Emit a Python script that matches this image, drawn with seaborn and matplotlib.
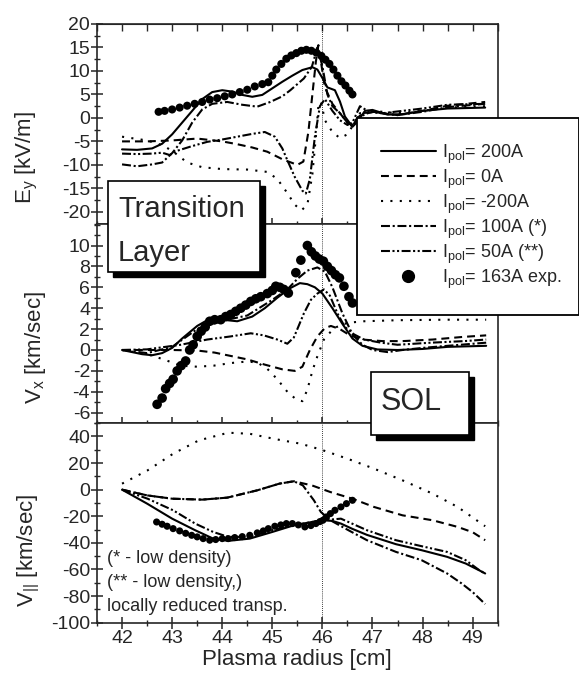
import numpy as np
import pandas as pd
import seaborn as sns
import matplotlib.pyplot as plt
from matplotlib.lines import Line2D
from matplotlib.patches import Rectangle

sns.set_style("ticks")
plt.rcParams['font.family'] = ['Liberation Sans', 'DejaVu Sans']
plt.rcParams['mathtext.fontset'] = 'custom'
plt.rcParams['mathtext.rm'] = 'Liberation Sans'
plt.rcParams['mathtext.it'] = 'Liberation Sans:italic'
plt.rcParams['mathtext.bf'] = 'Liberation Sans:bold'
plt.rcParams['axes.unicode_minus'] = False

# ---- E_y panel [kV/m] ----
ey_200_x = [42.0, 42.3, 42.6, 42.8, 43.0, 43.2, 43.4, 43.6, 43.8, 44.0, 44.2, 44.4, 44.6, 44.8, 45.0, 45.2,
            45.4, 45.6, 45.8, 45.9, 46.0, 46.1, 46.25, 46.35, 46.45, 46.6, 46.7, 46.85, 47.0, 47.3, 47.6,
            48.0, 48.5, 49.25]
ey_200_y = [-6.7, -6.8, -6.5, -5.5, -3.5, -1.0, 1.5, 4.0, 5.5, 5.9, 5.6, 4.9, 4.5, 4.9, 6.3, 7.7,
            9.0, 10.2, 10.8, 10.3, 8.5, 6.5, 5.9, 3.5, 0.3, -1.9, -0.8, 1.5, 1.7, 0.7, 0.8,
            1.5, 2.0, 2.2]
ey_0_x = [42.0, 42.5, 43.0, 43.5, 44.0, 44.3, 44.6, 44.9, 45.2, 45.5, 45.62, 45.72, 45.8, 45.87, 45.92,
          45.97, 46.05, 46.2, 46.35, 46.5, 46.6, 46.75, 47.0, 47.5, 48.0, 48.5, 49.25]
ey_0_y = [-5.0, -5.0, -4.8, -4.4, -5.0, -5.6, -6.3, -7.2, -8.8, -10.0, -9.3, -3.0, 5.0, 12.0, 15.5,
          12.0, 6.5, 3.0, 1.0, -1.0, -1.5, 0.5, 1.3, 0.6, 1.5, 2.6, 3.4]
ey_m200_x = [42.0, 42.5, 42.8, 43.0, 43.3, 43.6, 44.0, 44.5, 44.9, 45.1, 45.3, 45.45, 45.58, 45.7, 45.8,
             45.87, 45.92, 45.97, 46.05, 46.2, 46.35, 46.5, 46.7, 47.0, 47.5, 48.0, 48.5, 49.25]
ey_m200_y = [-4.0, -4.8, -5.8, -7.0, -9.5, -10.5, -10.9, -11.0, -11.5, -13.0, -16.0, -18.5, -19.7, -18.5, -12.0,
             -4.0, 2.5, 3.5, -0.5, -3.0, -4.3, -3.5, 0.0, 1.5, 1.0, 1.5, 2.2, 2.5]
ey_100_x = [42.0, 42.3, 42.6, 42.8, 43.0, 43.2, 43.4, 43.6, 43.8, 44.1, 44.4, 44.7, 44.96, 45.2, 45.36,
            45.63, 45.79, 45.9, 46.0, 46.1, 46.2, 46.35, 46.5, 46.6, 46.75, 47.0, 47.5, 48.0, 48.5, 49.25]
ey_100_y = [-9.9, -10.3, -9.9, -9.5, -7.5, -4.8, -1.0, 1.8, 3.0, 3.4, 2.8, 2.4, 3.4, 4.6, 5.9,
            8.4, 10.9, 15.0, 11.0, 5.0, 2.5, 1.0, -1.0, -1.8, 1.0, 1.2, 0.6, 1.3, 2.3, 3.0]
ey_50_x = [42.0, 42.3, 42.6, 42.8, 42.95, 43.1, 43.4, 43.7, 44.0, 44.3, 44.6, 44.85, 45.05, 45.2, 45.3,
           45.45, 45.6, 45.67, 45.75, 45.85, 45.95, 46.05, 46.2, 46.35, 46.5, 46.6, 46.75, 46.9, 47.2,
           47.6, 48.0, 48.5, 49.25]
ey_50_y = [-7.6, -7.7, -7.6, -7.4, -7.9, -7.0, -6.0, -5.1, -4.6, -4.0, -3.4, -3.0, -4.0, -6.5, -9.0,
           -12.6, -15.5, -16.1, -13.0, -4.0, 2.5, 4.0, 1.5, -0.5, -1.5, -1.0, 2.5, 1.5, 1.0,
           1.5, 2.0, 2.8, 3.0]
ey_exp_x = [42.73, 42.85, 43.0, 43.15, 43.3, 43.45, 43.6, 43.75, 43.9, 44.05, 44.2, 44.35, 44.5, 44.65,
            44.8, 44.92, 45.0, 45.08, 45.18, 45.28, 45.38, 45.48, 45.58, 45.68, 45.78, 45.88, 45.98,
            46.06, 46.14, 46.22, 46.3, 46.38, 46.46, 46.54, 46.6]
ey_exp_y = [1.3, 1.5, 1.8, 2.2, 2.6, 3.0, 3.4, 3.9, 4.2, 4.6, 5.0, 5.5, 6.0, 6.7,
            7.2, 7.6, 9.0, 10.3, 11.5, 12.6, 13.3, 13.8, 14.3, 14.5, 14.3, 13.9, 13.2,
            12.4, 11.5, 10.3, 9.0, 7.8, 6.9, 5.8, 5.0]

# ---- V_x panel [km/sec] ----
vx_200_x = [42.0, 42.2, 42.4, 42.6, 42.8, 43.0, 43.2, 43.5, 43.7, 44.0, 44.3, 44.6, 44.85, 45.1, 45.35,
            45.55, 45.7, 45.85, 46.0, 46.2, 46.4, 46.6, 46.8, 47.1, 47.5, 48.0, 48.5, 49.27]
vx_200_y = [0.0, -0.2, -0.4, -0.5, -0.3, 0.2, 1.1, 2.3, 2.85, 2.9, 2.75, 3.2, 4.0, 5.0, 5.9,
            6.4, 6.3, 6.0, 5.4, 4.0, 2.5, 1.1, 0.4, 0.05, 0.0, 0.1, 0.3, 0.4]
vx_0_x = [42.0, 42.5, 43.0, 43.5, 43.85, 44.2, 44.5, 44.85, 45.2, 45.45, 45.6, 45.75, 45.9, 46.05, 46.17,
          46.35, 46.55, 46.8, 47.2, 47.6, 48.2, 48.8, 49.27]
vx_0_y = [0.0, 0.0, 0.0, -0.05, -0.25, -0.6, -0.9, -1.4, -1.85, -2.0, -1.6, 0.0, 1.3, 2.1, 2.3,
          2.0, 1.4, 1.0, 0.85, 0.85, 1.0, 1.25, 1.4]
vx_m200_x = [42.0, 42.5, 42.83, 43.17, 43.5, 43.83, 44.17, 44.5, 44.7, 44.9, 45.1, 45.3, 45.47, 45.6,
             45.7, 45.8, 45.9, 46.03, 46.23, 46.5, 46.83, 47.5, 48.5, 49.27]
vx_m200_y = [0.0, -0.4, -0.9, -1.5, -1.6, -1.5, -1.25, -1.1, -1.2, -1.8, -2.8, -4.0, -4.7, -4.9,
             -3.8, -2.0, -0.6, 1.0, 2.1, 2.6, 2.75, 2.85, 2.9, 2.9]
vx_100_x = [42.0, 42.5, 43.0, 43.5, 44.0, 44.5, 45.0, 45.3, 45.5, 45.7, 45.9, 46.05, 46.2, 46.4, 46.6,
            46.8, 47.0, 47.3, 47.6, 48.0, 48.5, 49.27]
vx_100_y = [0.0, -0.3, 0.3, 2.0, 2.8, 3.3, 4.8, 5.8, 6.8, 7.6, 7.9, 7.5, 6.0, 3.5, 1.5,
            0.5, 0.0, -0.2, 0.0, 0.2, 0.4, 0.7]
vx_50_x = [42.0, 42.5, 43.17, 43.7, 44.17, 44.57, 44.83, 45.1, 45.3, 45.43, 45.5, 45.63, 45.77, 45.9,
           46.03, 46.15, 46.3, 46.45, 46.63, 46.83, 47.17, 47.5, 48.17, 48.83, 49.27]
vx_50_y = [0.0, 0.06, 0.5, 1.0, 1.3, 1.6, 1.4, 1.0, 0.6, 1.2, 2.0, 3.5, 4.8, 5.4,
           5.8, 5.2, 3.5, 2.2, 1.5, 1.0, 0.7, 0.5, 0.7, 0.85, 1.0]
vx_exp_x = [42.7, 42.8, 42.87, 42.95, 43.02, 43.1, 43.18, 43.27, 43.35, 43.42, 43.5, 43.58, 43.66, 43.75,
            43.85, 43.97, 44.07, 44.17, 44.27, 44.37, 44.47, 44.57, 44.67, 44.77, 44.9, 45.0, 45.07,
            45.15, 45.23, 45.32, 45.47, 45.57, 45.7, 45.78, 45.86, 45.94, 46.02, 46.1, 46.18, 46.26,
            46.34, 46.43, 46.53, 46.6]
vx_exp_y = [-5.2, -4.6, -3.7, -3.2, -2.8, -2.0, -1.5, -1.05, 0.0, 0.5, 1.3, 1.8, 2.2, 2.75,
            2.9, 2.9, 3.2, 3.4, 3.7, 4.0, 4.3, 4.65, 4.9, 5.1, 5.4, 5.7, 6.1,
            6.0, 5.8, 5.45, 7.4, 8.6, 10.0, 9.4, 9.0, 8.7, 8.5, 8.0, 7.6, 7.2,
            6.9, 6.1, 5.1, 4.5]

# ---- V_par panel [km/sec] ----
vp_200_x = [42.0, 42.5, 43.0, 43.46, 43.82, 44.12, 44.55, 45.0, 45.43, 45.79, 46.01, 46.2, 46.37, 46.6,
            46.89, 47.47, 47.98, 48.49, 48.86, 49.15, 49.25]
vp_200_y = [0, -10.5, -21.8, -30.5, -36.8, -38.5, -36.8, -31.8, -26.8, -24.3, -23.0, -23.5, -25.5, -29.5,
            -34.0, -41.0, -45.5, -50.5, -55.5, -61.0, -63.0]
vp_0_x = [42.0, 42.5, 43.0, 43.6, 44.1, 44.7, 45.14, 45.43, 45.79, 46.16, 46.6, 47.03, 47.6, 48.2,
          48.7, 49.0, 49.25]
vp_0_y = [0, -4.3, -6.8, -7.5, -6.0, -0.5, 4.5, 6.3, 3.2, -1.8, -6.8, -13.0, -19.3, -23.0,
          -28.0, -32.0, -38.0]
vp_m200_x = [42.0, 42.51, 43.02, 43.53, 44.12, 44.55, 45.06, 45.57, 45.98, 46.52, 47.03, 47.6, 48.2,
             48.7, 49.25]
vp_m200_y = [4.5, 14.5, 27.0, 37.0, 42.8, 42.0, 38.0, 34.5, 30.0, 23.0, 15.8, 7.0, -3.0,
             -13.0, -27.5]
vp_100_x = [42.0, 42.5, 43.0, 43.6, 44.1, 44.7, 45.14, 45.43, 45.61, 45.83, 45.97, 46.16, 46.52, 46.89,
            47.47, 47.98, 48.49, 48.78, 49.0, 49.25]
vp_100_y = [0, -4.3, -6.8, -7.5, -6.0, -0.5, 4.5, 6.3, 3.2, -8.0, -16.8, -23.0, -30.5, -38.0,
            -46.8, -53.0, -63.0, -70.5, -77.0, -86.0]
vp_50_x = [42.0, 42.51, 43.02, 43.46, 43.82, 44.12, 44.55, 44.99, 45.43, 45.79, 46.01, 46.37, 46.89,
           47.47, 47.98, 48.49, 48.86, 49.15, 49.25]
vp_50_y = [0, -6.8, -15.5, -25.5, -31.8, -35.5, -35.5, -30.5, -26.8, -24.3, -23.0, -21.8, -30.5,
           -38.0, -42.5, -46.8, -53.0, -61.0, -63.0]
vp_exp_x = [42.69, 42.8, 42.9, 43.02, 43.15, 43.27, 43.39, 43.5, 43.62, 43.75, 43.87, 44.0, 44.12, 44.25,
            44.4, 44.55, 44.7, 44.82, 44.92, 45.05, 45.17, 45.28, 45.4, 45.52, 45.65, 45.77, 45.87,
            45.95, 46.01, 46.08, 46.16, 46.25, 46.37, 46.48, 46.6]
vp_exp_y = [-24.3, -26.0, -27.5, -29.3, -31.0, -32.8, -34.3, -35.5, -36.8, -38.0, -37.5, -36.8, -36.8, -36.0,
            -35.3, -34.3, -32.5, -31.0, -29.3, -27.5, -26.5, -25.5, -25.5, -26.5, -28.0, -27.0, -25.5,
            -24.0, -23.0, -20.5, -18.0, -15.5, -13.0, -10.5, -8.0]

labels = [r'I$_{\mathrm{pol}}$= 200A', r'I$_{\mathrm{pol}}$= 0A', r'I$_{\mathrm{pol}}$= -200A',
          r'I$_{\mathrm{pol}}$= 100A (*)', r'I$_{\mathrm{pol}}$= 50A (**)', r'I$_{\mathrm{pol}}$= 163A exp.']
styles = ['-', (0, (3.8, 2.4)), (0, (1, 3.5)), (0, (4.3, 1.3, 1, 1.3)), (0, (4.3, 1.2, 1, 1.2, 1, 1.2))]

panels = [
    [(ey_200_x, ey_200_y), (ey_0_x, ey_0_y), (ey_m200_x, ey_m200_y), (ey_100_x, ey_100_y),
     (ey_50_x, ey_50_y), (ey_exp_x, ey_exp_y)],
    [(vx_200_x, vx_200_y), (vx_0_x, vx_0_y), (vx_m200_x, vx_m200_y), (vx_100_x, vx_100_y),
     (vx_50_x, vx_50_y), (vx_exp_x, vx_exp_y)],
    [(vp_200_x, vp_200_y), (vp_0_x, vp_0_y), (vp_m200_x, vp_m200_y), (vp_100_x, vp_100_y),
     (vp_50_x, vp_50_y), (vp_exp_x, vp_exp_y)],
]
ylims = [(-22.4, 20), (-7, 12.1), (-100, 50)]
yticks = [np.arange(-20, 21, 5), np.arange(-6, 11, 2), np.arange(-100, 41, 20)]
yminor = [np.arange(-22.5, 20.1, 2.5), np.arange(-7, 12.1, 1), np.arange(-100, 50.1, 10)]
dot_sizes = [34, 48, 26]

W, H = 579, 681
fig = plt.figure(figsize=(W / 100, H / 100), dpi=100)
L, R, T, B = 97 / W, 497.7 / W, 1 - 24 / H, 1 - 622.7 / H
ph = (T - B) / 3
axes = []
for i in range(3):
    ax = fig.add_axes([L, T - (i + 1) * ph, R - L, ph])
    axes.append(ax)

for i, ax in enumerate(axes):
    series = panels[i]
    for k in range(5):
        sx, sy = series[k]
        sns.lineplot(x=sx, y=sy, ax=ax, color='black', lw=1.5, linestyle=styles[k],
                     sort=False, estimator=None, legend=False)
    ex, ey = series[5]
    sns.scatterplot(x=ex, y=ey, ax=ax, color='black', s=dot_sizes[i], edgecolor='none',
                    zorder=3, legend=False)
    ax.axvline(46, color='black', lw=0.6, ls=(0, (1, 1.5)), zorder=1)
    ax.set_xlim(41.5, 49.5)
    ax.set_ylim(*ylims[i])
    ax.set_xticks(np.arange(42, 50, 1))
    ax.set_xticks(np.arange(41.5, 49.6, 0.5), minor=True)
    ax.set_yticks(yticks[i])
    ax.set_yticks(yminor[i], minor=True)
    ax.tick_params(which='major', direction='inout', length=8, width=1.1, labelsize=14, pad=1)
    ax.tick_params(which='minor', direction='inout', length=5, width=1.0)
    ax.tick_params(labelbottom=(i == 2))
    for sp in ax.spines.values():
        sp.set_linewidth(1.2)
    ax.set_xlabel('')
    ax.set_ylabel('')

sec = axes[0].secondary_xaxis('top')
sec.set_xticks(np.arange(42, 50, 1))
sec.set_xticks(np.arange(41.5, 49.6, 0.5), minor=True)
sec.tick_params(which='both', direction='in', length=5, width=1.0, labeltop=False)

axes[2].set_xlabel('Plasma radius [cm]', fontsize=16, labelpad=2)

fig.text(27 / W, 1 - 157 / H, r'E$_\mathrm{y}$ [kV/m]', rotation=90, ha='center', va='center', fontsize=16)
fig.text(36 / W, 1 - 348 / H, r'V$_\mathrm{x}$ [km/sec]', rotation=90, ha='center', va='center', fontsize=16)
fig.text(29 / W, 1 - 550 / H, r'V$_{||}$ [km/sec]', rotation=90, ha='center', va='center', fontsize=16)

# notes in the lower panel
fig.text(107 / W, 1 - 563 / H, '(* - low density)', fontsize=13, va='baseline')
fig.text(107 / W, 1 - 587 / H, '(** - low density,)', fontsize=13, va='baseline')
fig.text(107 / W, 1 - 611 / H, 'locally reduced transp.', fontsize=13, va='baseline')


def shadow_box(x0, y0, x1, y1, off=5):
    # pixel box, top-down y
    fig.add_artist(Rectangle(((x0 + off) / W, 1 - (y1 + off) / H), (x1 - x0) / W, (y1 - y0) / H,
                             transform=fig.transFigure, facecolor='black', edgecolor='black', zorder=5))
    fig.add_artist(Rectangle((x0 / W, 1 - y1 / H), (x1 - x0) / W, (y1 - y0) / H,
                             transform=fig.transFigure, facecolor='white', edgecolor='black',
                             lw=1.2, zorder=6))


shadow_box(108, 181, 260, 272)
fig.text(118 / W, 1 - 217 / H, 'Transition', fontsize=21, va='baseline', zorder=7)
fig.text(118 / W, 1 - 261 / H, 'Layer', fontsize=21, va='baseline', zorder=7)
shadow_box(371, 372, 469, 435)
fig.text(381 / W, 1 - 410 / H, 'SOL', fontsize=22, va='baseline', zorder=7)

handles = [Line2D([], [], color='black', lw=1.5, linestyle=s) for s in styles]
handles.append(Line2D([], [], color='black', marker='o', markersize=8.5, linestyle='none'))
leg = fig.legend(handles, labels, loc='upper left',
                 bbox_to_anchor=(357 / W, 1 - 315 / H, 222 / W, 197 / H), mode='expand',
                 fontsize=13, frameon=True, fancybox=False, framealpha=1, edgecolor='black',
                 borderpad=1.35, labelspacing=0.1, handlelength=3.0, handletextpad=0.35,
                 borderaxespad=0)
leg.get_frame().set_linewidth(1.3)
leg.set_zorder(8)

fig.savefig('out.png', dpi=100)
